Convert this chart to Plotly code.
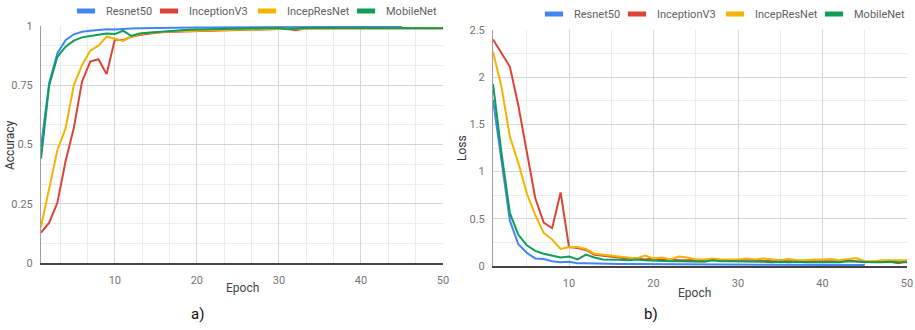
import plotly.graph_objects as go

W, H = 915, 330

epochs = list(range(1, 51))
epochs_resnet = list(range(1, 46))

series_names = ["Resnet50", "InceptionV3", "IncepResNet", "MobileNet"]
colors = ["#4285F4", "#DB4437", "#F4B400", "#0F9D58"]

acc_resnet = [0.49, 0.76, 0.885, 0.94, 0.965, 0.976, 0.98, 0.984, 0.986, 0.985,
              0.988, 0.989, 0.99, 0.991, 0.991, 0.992, 0.992, 0.993, 0.993, 0.994,
              0.994, 0.994, 0.995, 0.995, 0.995, 0.995, 0.995, 0.996, 0.996, 0.996,
              0.996, 0.996, 0.996, 0.997, 0.997, 0.997, 0.997, 0.997, 0.997, 0.997,
              0.997, 0.997, 0.997, 0.997, 0.997]
acc_inception = [0.128, 0.17, 0.255, 0.43, 0.57, 0.765, 0.85, 0.86, 0.797, 0.943,
                 0.94, 0.955, 0.962, 0.968, 0.972, 0.975, 0.976, 0.975, 0.978, 0.977,
                 0.978, 0.982, 0.983, 0.984, 0.985, 0.986, 0.987, 0.988, 0.988, 0.99,
                 0.988, 0.982, 0.988, 0.989, 0.99, 0.99, 0.99, 0.991, 0.99, 0.991,
                 0.991, 0.99, 0.991, 0.991, 0.992, 0.99, 0.991, 0.99, 0.991, 0.99]
acc_incepres = [0.153, 0.31, 0.477, 0.568, 0.75, 0.835, 0.896, 0.917, 0.955, 0.946,
                0.937, 0.955, 0.965, 0.97, 0.972, 0.975, 0.978, 0.98, 0.978, 0.98,
                0.98, 0.982, 0.984, 0.983, 0.985, 0.986, 0.985, 0.987, 0.988, 0.987,
                0.988, 0.988, 0.989, 0.988, 0.989, 0.99, 0.989, 0.99, 0.99, 0.99,
                0.989, 0.99, 0.99, 0.99, 0.991, 0.99, 0.99, 0.991, 0.99, 0.99]
acc_mobile = [0.44, 0.75, 0.87, 0.913, 0.938, 0.952, 0.958, 0.962, 0.968, 0.966,
              0.98, 0.958, 0.968, 0.972, 0.975, 0.977, 0.98, 0.982, 0.984, 0.985,
              0.986, 0.987, 0.988, 0.988, 0.989, 0.99, 0.99, 0.992, 0.992, 0.992,
              0.986, 0.99, 0.992, 0.992, 0.992, 0.991, 0.992, 0.992, 0.993, 0.992,
              0.992, 0.993, 0.993, 0.993, 0.993, 0.99, 0.991, 0.991, 0.991, 0.991]

loss_resnet = [1.76, 1.1, 0.48, 0.23, 0.14, 0.08, 0.075, 0.05, 0.04, 0.045,
               0.03, 0.03, 0.03, 0.025, 0.025, 0.022, 0.02, 0.02, 0.018, 0.018,
               0.017, 0.017, 0.016, 0.016, 0.015, 0.015, 0.015, 0.014, 0.014, 0.014,
               0.013, 0.013, 0.013, 0.012, 0.012, 0.012, 0.012, 0.011, 0.011, 0.011,
               0.011, 0.01, 0.01, 0.01, 0.01]
loss_inception = [2.40, 2.26, 2.11, 1.70, 1.20, 0.72, 0.46, 0.40, 0.78, 0.20,
                  0.19, 0.17, 0.12, 0.11, 0.10, 0.09, 0.08, 0.08, 0.07, 0.08,
                  0.07, 0.07, 0.06, 0.06, 0.065, 0.06, 0.06, 0.055, 0.06, 0.06,
                  0.07, 0.06, 0.055, 0.05, 0.055, 0.05, 0.05, 0.05, 0.055, 0.05,
                  0.055, 0.05, 0.06, 0.05, 0.04, 0.045, 0.05, 0.045, 0.03, 0.05]
loss_incepres = [2.27, 1.90, 1.37, 1.09, 0.77, 0.54, 0.35, 0.28, 0.18, 0.20,
                 0.20, 0.18, 0.13, 0.12, 0.11, 0.10, 0.09, 0.08, 0.11, 0.08,
                 0.09, 0.07, 0.10, 0.09, 0.07, 0.07, 0.08, 0.07, 0.07, 0.07,
                 0.08, 0.07, 0.08, 0.07, 0.06, 0.075, 0.06, 0.06, 0.07, 0.07,
                 0.075, 0.06, 0.07, 0.085, 0.05, 0.05, 0.06, 0.06, 0.065, 0.06]
loss_mobile = [1.93, 1.2, 0.56, 0.33, 0.22, 0.16, 0.13, 0.11, 0.09, 0.10,
               0.07, 0.12, 0.09, 0.07, 0.07, 0.065, 0.06, 0.07, 0.06, 0.055,
               0.05, 0.05, 0.05, 0.05, 0.05, 0.045, 0.06, 0.05, 0.05, 0.05,
               0.045, 0.045, 0.045, 0.04, 0.045, 0.04, 0.045, 0.04, 0.04, 0.04,
               0.04, 0.04, 0.05, 0.045, 0.04, 0.04, 0.04, 0.045, 0.04, 0.04]

acc_ticks = [0, 0.25, 0.5, 0.75, 1]
acc_ticktext = ["0", "0.25", "0.5", "0.75", "1"]
loss_ticks = [0, 0.5, 1, 1.5, 2, 2.5]
loss_ticktext = ["0", "0.5", "1", "1.5", "2", "2.5"]

FONT = "Roboto, Arial, sans-serif"
TICK_COLOR = "#757575"

fig = go.Figure()

acc_data = [(epochs_resnet, acc_resnet), (epochs, acc_inception),
            (epochs, acc_incepres), (epochs, acc_mobile)]
loss_data = [(epochs_resnet, loss_resnet), (epochs, loss_inception),
             (epochs, loss_incepres), (epochs, loss_mobile)]

for (xs, ys), name, c in zip(acc_data, series_names, colors):
    fig.add_trace(go.Scatter(x=xs, y=ys, mode="lines", name=name,
                             line=dict(color=c, width=2), showlegend=False,
                             xaxis="x", yaxis="y"))
for (xs, ys), name, c in zip(loss_data, series_names, colors):
    fig.add_trace(go.Scatter(x=xs, y=ys, mode="lines", name=name,
                             line=dict(color=c, width=2), showlegend=False,
                             xaxis="x2", yaxis="y2"))

# legend entries: one legend per entry so each sits where the reference puts it
left_text_x = [102, 185, 283, 382]
right_text_x = [570, 653, 751, 850]
legend_layout = {}
k = 1
for panel, text_xs, ypx, xa, ya in [("a", left_text_x, 11, "x", "y"),
                                     ("b", right_text_x, 14, "x2", "y2")]:
    for name, c, tx in zip(series_names, colors, text_xs):
        lname = "legend" if k == 1 else f"legend{k}"
        fig.add_trace(go.Scatter(x=[None], y=[None], mode="markers", name=name,
                                 marker=dict(symbol="line-ew", size=13,
                                             color=c, line=dict(width=5, color=c)),
                                 showlegend=True, legend=lname,
                                 xaxis=xa, yaxis=ya))
        legend_layout[lname] = dict(
            x=(tx + 4 - 40) / W, xanchor="left", y=1 - ypx / H, yanchor="middle",
            orientation="h", bgcolor="rgba(0,0,0,0)", borderwidth=0,
            font=dict(family=FONT, size=11, color="#616161"),
            itemwidth=30,
        )
        k += 1

axis_common = dict(
    showgrid=True, gridcolor="#d6d6d6", gridwidth=1,
    zeroline=False, ticks="", tickfont=dict(family=FONT, size=11, color=TICK_COLOR),
)

fig.update_layout(
    width=W, height=H,
    margin=dict(l=0, r=0, t=0, b=0, autoexpand=False),
    paper_bgcolor="white", plot_bgcolor="white",
    font=dict(family=FONT),
    xaxis=dict(domain=[41 / W, 443 / W], range=[1, 50], tick0=0, dtick=10,
               anchor="y", showline=True, linecolor="#444", linewidth=1.5,
               minor=dict(tick0=0, dtick=10 / 3, showgrid=True, gridcolor="#ececec"),
               ticklabelstandoff=6, ticklabeloverflow="allow", **axis_common),
    yaxis=dict(domain=[(H - 263) / H, (H - 26) / H], range=[0, 1],
               tickvals=acc_ticks, ticktext=acc_ticktext, anchor="x",
               showline=True, linecolor="#9e9e9e", linewidth=1,
               minor=dict(tick0=0, dtick=0.25 / 3, showgrid=True, gridcolor="#ececec"),
               ticklabelstandoff=5, **axis_common),
    xaxis2=dict(domain=[493 / W, 907 / W], range=[1, 50], tick0=0, dtick=10,
                anchor="y2", showline=True, linecolor="#444", linewidth=1.5,
                minor=dict(tick0=0, dtick=5, showgrid=True, gridcolor="#ececec"),
                ticklabelstandoff=6, ticklabeloverflow="allow", **axis_common),
    yaxis2=dict(domain=[(H - 266) / H, (H - 30) / H], range=[0, 2.5],
                tickvals=loss_ticks, ticktext=loss_ticktext, anchor="x2",
                showline=True, linecolor="#9e9e9e", linewidth=1,
                minor=dict(tick0=0, dtick=0.25, showgrid=True, gridcolor="#ececec"),
                ticklabelstandoff=5, **axis_common),
    **legend_layout,
)

def ann(text, xpx, ypx, size, color, angle=0):
    fig.add_annotation(text=text, x=xpx / W, y=1 - ypx / H, xref="paper", yref="paper",
                       xanchor="center", yanchor="middle", showarrow=False,
                       textangle=angle, font=dict(family=FONT, size=size, color=color))

ann("Accuracy", 10, 145, 12, "#333333", -90)
ann("Loss", 462, 148, 12, "#333333", -90)
ann("Epoch", 243, 288, 12, "#444444")
ann("Epoch", 694, 293, 12, "#444444")
ann("a)", 197, 314, 15, "#111111")
ann("b)", 651, 314, 15, "#111111")

fig.write_html(
    "out.html",
    config={"displayModeBar": False},
    post_script="document.body.style.margin='0';document.body.style.overflow='hidden';",
)
